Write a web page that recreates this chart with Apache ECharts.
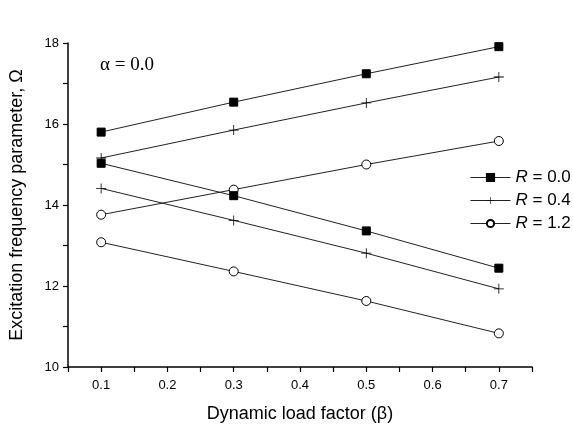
<!DOCTYPE html>
<html>
<head>
<meta charset="utf-8">
<script src="https://cdn.jsdelivr.net/npm/echarts@6/dist/echarts.min.js"></script>
<style>
  html, body { margin: 0; padding: 0; background: #fff; }
  #chart { width: 573px; height: 428px; }
</style>
</head>
<body>
<div id="chart"></div>
<script>
// dynamic load factor values
const beta = [0.1, 0.3, 0.5, 0.7]

// upper branch (increasing) and lower branch (decreasing) for each R
const upperR00 = [15.80, 16.54, 17.24, 17.91]
const upperR04 = [15.16, 15.85, 16.52, 17.16]
const upperR12 = [13.76, 14.38, 15.00, 15.58]
const lowerR00 = [15.03, 14.23, 13.36, 12.44]
const lowerR04 = [14.41, 13.62, 12.81, 11.93]
const lowerR12 = [13.08, 12.36, 11.63, 10.83]

const rValues = ['0.0', '0.4', '1.2']
const xTickLabels = ['0.1', '0.2', '0.3', '0.4', '0.5', '0.6', '0.7']
const yTickLabels = ['10', '12', '14', '16', '18']

const PLUS = 'path://M4.6,0 L5.4,0 L5.4,4.6 L10,4.6 L10,5.4 L5.4,5.4 L5.4,10 L4.6,10 L4.6,5.4 L0,5.4 L0,4.6 L4.6,4.6 Z'

const markers = {
  '0.0': { symbol: 'rect', size: 8, color: '#000', border: '#000' },
  '0.4': { symbol: PLUS, size: 10, color: '#000', border: 'transparent' },
  '1.2': { symbol: 'circle', size: 9, color: '#fff', border: '#000' }
}

function pairs(ys) {
  return beta.map((b, i) => [b, ys[i]])
}

function makeSeries(r, ys) {
  const m = markers[r]
  return {
    name: 'R = ' + r,
    type: 'line',
    data: pairs(ys),
    symbol: m.symbol,
    symbolSize: m.size,
    showSymbol: true,
    lineStyle: { color: '#222', width: 1 },
    itemStyle: { color: m.color, borderColor: m.border, borderWidth: 1 },
    z: 3
  }
}

const chart = echarts.init(document.getElementById('chart'))

const font = '"Liberation Sans", Arial, sans-serif'

chart.setOption({
  animation: false,
  backgroundColor: '#fff',
  textStyle: { fontFamily: font },
  title: {
    text: 'α = 0.0',
    left: 95,
    top: 51,
    textStyle: {
      fontFamily: '"Liberation Serif", "Times New Roman", serif',
      fontWeight: 'normal',
      fontSize: 19,
      color: '#000'
    }
  },
  grid: { left: 68, right: 41, top: 43, bottom: 59 },
  legend: {
    orient: 'vertical',
    left: 465,
    top: 164,
    itemWidth: 40,
    itemHeight: 9,
    itemGap: 6,
    lineStyle: { width: 1, color: '#222' },
    data: rValues.map(r => 'R = ' + r),
    formatter: name => '{i|R}' + name.slice(1),
    textStyle: {
      fontSize: 17,
      color: '#000',
      fontFamily: font,
      rich: {
        i: { fontStyle: 'italic', fontSize: 17, fontFamily: font, color: '#000' }
      }
    }
  },
  xAxis: {
    type: 'value',
    min: 0.05,
    max: 0.75,
    interval: 0.05,
    name: 'Dynamic load factor (β)',
    nameLocation: 'middle',
    nameGap: 38,
    nameTextStyle: { fontSize: 18, color: '#000', fontFamily: font },
    axisLine: { lineStyle: { color: '#000', width: 1.5 } },
    axisTick: { show: true, length: 5, lineStyle: { color: '#000', width: 1.2 } },
    axisLabel: {
      color: '#000',
      fontSize: 13,
      margin: 12,
      showMinLabel: true,
      showMaxLabel: true,
      formatter: v => {
        const s = (Math.round(v * 100) / 100).toFixed(2)
        const t = s.endsWith('0') ? s.slice(0, -1) : ''
        return xTickLabels.includes(t) ? t : ''
      }
    },
    splitLine: { show: false }
  },
  yAxis: {
    type: 'value',
    min: 10,
    max: 18,
    interval: 1,
    name: 'Excitation frequency parameter, Ω',
    nameLocation: 'middle',
    nameGap: 42,
    nameTextStyle: { fontSize: 18, color: '#000', fontFamily: font },
    axisLine: { show: true, lineStyle: { color: '#000', width: 1.5 } },
    axisTick: { show: true, length: 5, lineStyle: { color: '#000', width: 1.2 } },
    axisLabel: {
      color: '#000',
      fontSize: 13,
      margin: 9,
      formatter: v => yTickLabels.includes(String(v)) ? String(v) : ''
    },
    splitLine: { show: false }
  },
  series: [
    makeSeries('0.0', upperR00),
    makeSeries('0.4', upperR04),
    makeSeries('1.2', upperR12),
    makeSeries('0.0', lowerR00),
    makeSeries('0.4', lowerR04),
    makeSeries('1.2', lowerR12)
  ]
})
</script>
</body>
</html>
